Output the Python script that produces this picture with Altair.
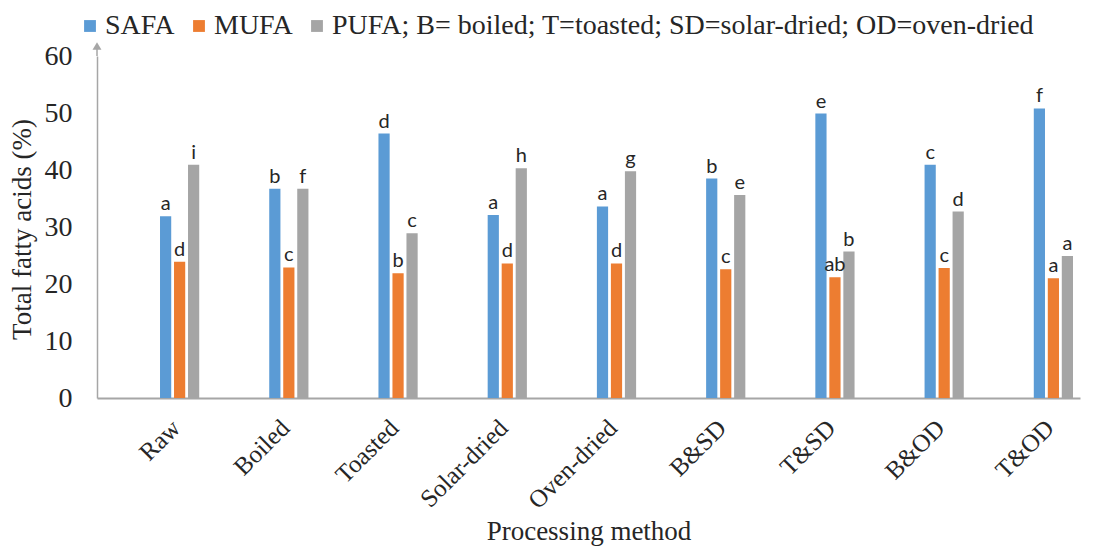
import altair as alt
import pandas as pd

methods = ["Raw", "Boiled", "Toasted", "Solar-dried", "Oven-dried", "B&SD", "T&SD", "B&OD", "T&OD"]
series = ["SAFA", "MUFA", "PUFA"]
safa = [31.9, 36.7, 46.4, 32.1, 33.6, 38.5, 49.9, 40.9, 50.8]
mufa = [23.9, 22.9, 21.9, 23.6, 23.6, 22.6, 21.2, 22.8, 21.0]
pufa = [40.9, 36.7, 28.9, 40.3, 39.8, 35.6, 25.7, 32.7, 24.9]
safa_letters = ["a", "b", "d", "a", "a", "b", "e", "c", "f"]
mufa_letters = ["d", "c", "b", "d", "d", "c", "ab", "c", "a"]
pufa_letters = ["i", "f", "c", "h", "g", "e", "b", "d", "a"]
colors = ["#5B9BD5", "#ED7D31", "#A5A5A5"]
y_ticks = [0, 10, 20, 30, 40, 50, 60]
legend_note = "PUFA; B= boiled; T=toasted; SD=solar-dried; OD=oven-dried"

rows = []
for name, vals, lets in zip(series, [safa, mufa, pufa], [safa_letters, mufa_letters, pufa_letters]):
    for m, v, l in zip(methods, vals, lets):
        rows.append({"method": m, "series": name, "value": v, "letter": l})
df = pd.DataFrame(rows)

# empty slots before the groups push each bar group right within its category
offset_domain = ["_s1", "_s2", "_s3", "_s4"] + series

serif = "Liberation Serif"
axis_grey = "#A6A6A6"
text_col = "#262626"

x_enc = alt.X("method:N", sort=methods,
              scale=alt.Scale(paddingInner=0, paddingOuter=0),
              axis=alt.Axis(labelAngle=-45, labelAlign="right", labelBaseline="top",
                            labelFont=serif, labelFontSize=25, labelColor=text_col,
                            labelPadding=17, labelOffset=16, ticks=False,
                            domainColor=axis_grey, domainWidth=2,
                            title="Processing method", titleFont=serif, titleFontSize=27,
                            titleFontWeight="normal", titleColor=text_col,
                            titleY=141, titleBaseline="alphabetic"))
xo_enc = alt.XOffset("series:N",
                     scale=alt.Scale(domain=offset_domain, paddingInner=0.2, paddingOuter=0.5))
y_enc = alt.Y("value:Q", scale=alt.Scale(domain=[0, 60], nice=False),
              axis=alt.Axis(values=y_ticks, grid=False, ticks=False,
                            domainColor=axis_grey, domainWidth=1.5,
                            labelFont=serif, labelFontSize=28, labelColor=text_col, labelPadding=25,
                            title="Total fatty acids (%)", titleFont=serif, titleFontSize=27,
                            titleFontWeight="normal", titleColor=text_col,
                            titleX=-75, titleY=173, titleAngle=270,
                            titleAlign="center", titleBaseline="middle"))
color_enc = alt.Color("series:N", sort=series,
                      scale=alt.Scale(domain=series, range=colors),
                      legend=alt.Legend(title=None, orient="none", legendX=-21, legendY=-44,
                                        direction="horizontal", symbolType="square",
                                        symbolSize=140, symbolStrokeWidth=0,
                                        labelFont=serif, labelFontSize=28, labelColor=text_col,
                                        labelOffset=1, columnPadding=10, labelLimit=0,
                                        labelExpr=f"datum.label == 'PUFA' ? '{legend_note}' : datum.label"))

base = alt.Chart(df)
bars = base.mark_bar().encode(x=x_enc, xOffset=xo_enc, y=y_enc, color=color_enc)
labels = base.mark_text(baseline="bottom", align="center", dy=-2, font="Lato",
                        fontSize=20, color=text_col).encode(
    x=alt.X("method:N", sort=methods), xOffset=alt.XOffset("series:N"),
    y="value:Q", text="letter:N")

arrow_line = alt.Chart(pd.DataFrame({"v": [60]})).mark_rule(color=axis_grey, strokeWidth=1.5).encode(
    x=alt.value(0), y=alt.datum(60), y2=alt.value(-10))
arrow_head = alt.Chart(pd.DataFrame({"v": [60]})).mark_point(
    shape="triangle-up", filled=True, color=axis_grey, size=80, opacity=1).encode(
    x=alt.value(0), y=alt.value(-10))

chart = alt.layer(bars, labels, arrow_line, arrow_head).properties(
    width=983, height=342,
    autosize=alt.AutoSizeParams(type="none"),
    padding={"left": 89, "top": 48, "right": 4, "bottom": 150},
).configure_view(stroke=None).configure_axis(grid=False)

chart.save("out.html", embed_options={"renderer": "svg", "actions": False})
